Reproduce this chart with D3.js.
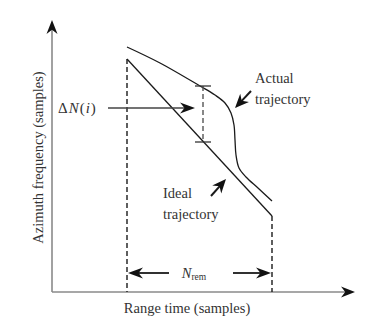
<!DOCTYPE html>
<html><head><meta charset="utf-8">
<script src="https://cdn.jsdelivr.net/npm/d3@7"></script>
<style>body{margin:0;background:#fff}svg{display:block}</style>
</head><body>
<script>
// schematic data (sample units)
const idealX = [75, 220];
const idealY = [233, 76];
const actualX = [75, 108, 148, 163, 173, 179, 182, 183, 184, 187, 194, 206, 220];
const actualY = [245, 229, 206, 197, 189, 179, 167, 152, 137, 124, 115, 104, 91];
const deltaX = 151;
const deltaY = [206, 150];
const labels = {x: "Range time (samples)", y: "Azimuth frequency (samples)", actual: ["Actual", "trajectory"], ideal: ["Ideal", "trajectory"]};

const W = 366, H = 327;
const x = d3.scaleLinear().domain([0, 300]).range([52, 352]);
const y = d3.scaleLinear().domain([0, 270]).range([292, 22]);

const svg = d3.select("body").append("svg").attr("width", W).attr("height", H);
const ink = "#1a1a1a";
const txt = "#333";
const fs = 14.5;
const FONT = '"Liberation Serif", serif';

function T(sel) { return sel.style("font-family", FONT); }

function arrowHead(tipX, tipY, angle, len, wid) {
  const c = Math.cos(angle), s = Math.sin(angle);
  const p = (u, v) => [tipX + u * c - v * s, tipY + u * s + v * c];
  const pts = [p(0, 0), p(-len, -wid / 2), p(-len * 0.7, 0), p(-len, wid / 2)];
  svg.append("path").attr("d", "M" + pts.map(q => q.join(",")).join("L") + "Z").attr("fill", "#111");
}
function arrow(x1, y1, x2, y2, color, w, len, wid) {
  const ang = Math.atan2(y2 - y1, x2 - x1);
  svg.append("line").attr("x1", x1).attr("y1", y1)
    .attr("x2", x2 - Math.cos(ang) * len * 0.6).attr("y2", y2 - Math.sin(ang) * len * 0.6)
    .attr("stroke", color).attr("stroke-width", w);
  arrowHead(x2, y2, ang, len, wid);
}

// axes
arrow(x(0), y(0), x(0), y(270) - 2, "#8a8a8a", 1.6, 14, 11);
arrow(x(0), y(0), x(303), y(0), "#8a8a8a", 1.6, 14, 11);

// dashed verticals
const dash = "5,3";
[0, 1].forEach(i => svg.append("line").attr("x1", x(idealX[i])).attr("x2", x(idealX[i]))
  .attr("y1", y(idealY[i])).attr("y2", y(0))
  .attr("stroke", ink).attr("stroke-width", 1.4).attr("stroke-dasharray", dash));

// ideal trajectory
svg.append("path")
  .attr("d", d3.line().x(d => x(d[0])).y(d => y(d[1]))(idealX.map((v, i) => [v, idealY[i]])))
  .attr("fill", "none").attr("stroke", ink).attr("stroke-width", 1.3);

// actual trajectory
svg.append("path")
  .attr("d", d3.line().x(d => x(d[0])).y(d => y(d[1])).curve(d3.curveCatmullRom)(actualX.map((v, i) => [v, actualY[i]])))
  .attr("fill", "none").attr("stroke", ink).attr("stroke-width", 1.3);

// delta N segment
svg.append("line").attr("x1", x(deltaX)).attr("x2", x(deltaX))
  .attr("y1", y(deltaY[0])).attr("y2", y(deltaY[1]))
  .attr("stroke", "#555").attr("stroke-width", 1.4).attr("stroke-dasharray", dash);
deltaY.forEach(v => {
  svg.append("line").attr("x1", x(deltaX) - 8).attr("x2", x(deltaX) + 8)
    .attr("y1", y(v)).attr("y2", y(v)).attr("stroke", "#333").attr("stroke-width", 1.3);
});

// delta N arrow and label
arrow(x(56), y(184), x(143), y(184), "#444", 1.5, 15, 11);
const dn = T(svg.append("text")).attr("x", x(6)).attr("y", y(184)).attr("dy", "0.35em")
  .style("font-size", "15px").attr("fill", txt).attr("letter-spacing", 1);
dn.append("tspan").text("Δ");
dn.append("tspan").attr("font-style", "italic").text("N");
dn.append("tspan").text("(");
dn.append("tspan").attr("font-style", "italic").text("i");
dn.append("tspan").text(")");

// actual label and arrow
labels.actual.forEach((t, i) => T(svg.append("text")).attr("x", x(203)).attr("y", y(209 - i * 21))
  .style("font-size", fs + "px").attr("fill", txt).text(t));
arrow(x(199), y(201), x(183), y(184), ink, 2, 14, 12);

// ideal label and arrow
labels.ideal.forEach((t, i) => T(svg.append("text")).attr("x", x(111)).attr("y", y(94 - i * 21))
  .style("font-size", fs + "px").attr("fill", txt).text(t));
arrow(x(159), y(96), x(174), y(113), ink, 2, 14, 12);

// N_rem arrows and label
const yr = y(19);
arrow(x(117), yr, x(idealX[0]) + 1, yr, ink, 1.8, 15, 11);
arrow(x(181), yr, x(idealX[1]) - 1, yr, ink, 1.8, 15, 11);
const nr = T(svg.append("text")).attr("x", x(142)).attr("y", yr).attr("dy", "0.35em")
  .style("font-size", fs + "px").attr("fill", txt).attr("text-anchor", "middle");
nr.append("tspan").attr("font-style", "italic").text("N");
nr.append("tspan").style("font-size", "9.5px").attr("dy", "0.25em").text("rem");

// axis labels
T(svg.append("text")).attr("x", 187).attr("y", 308).attr("dy", "0.35em")
  .attr("text-anchor", "middle").style("font-size", fs + "px").attr("fill", txt).text(labels.x);
T(svg.append("text")).attr("transform", "translate(38,157.5) rotate(-90)").attr("dy", "0.35em")
  .attr("text-anchor", "middle").style("font-size", fs + "px").attr("fill", txt).text(labels.y);
</script>
</body></html>
